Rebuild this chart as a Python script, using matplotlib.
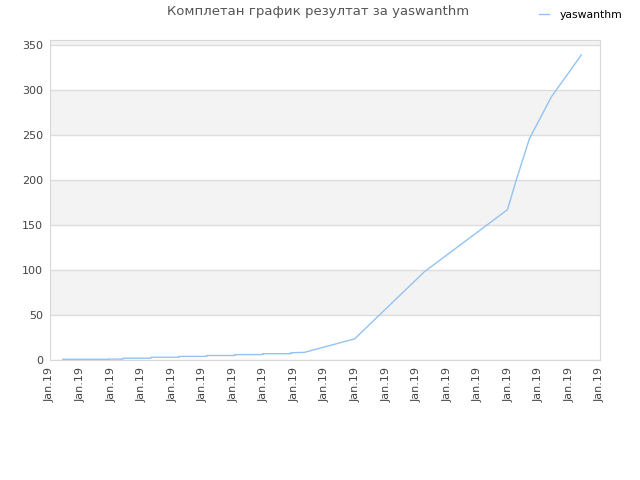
import matplotlib.pyplot as plt

# данные (x в единицах делений оси)
x = [0.42, 1.93, 1.93, 2.39, 2.39, 3.30, 3.30, 4.22, 4.22, 5.13, 5.13,
     6.05, 6.05, 6.96, 6.96, 7.88, 7.88, 8.33, 9.97, 12.25, 14.97, 15.26,
     15.69, 16.41, 17.39]
y = [0.8, 0.8, 1.0, 1.0, 2.0, 2.0, 3.0, 3.0, 4.0, 4.0, 5.0,
     5.0, 6.0, 6.0, 7.0, 7.0, 8.0, 8.5, 23.5, 98, 167, 200,
     246, 292.5, 339]
tick_labels = ["Jan.19"] * 19
y_ticks = [0, 50, 100, 150, 200, 250, 300, 350]

fig = plt.figure(figsize=(6.4, 4.8), dpi=100)
ax = fig.add_axes([50 / 640, 1 - 360 / 480, 550 / 640, 320 / 480])

# полосы фона
for lo in range(50, 400, 100):
    ax.axhspan(lo, lo + 50, color="#f3f3f3", zorder=0, lw=0)
for t in y_ticks:
    ax.axhline(t, color="#dddddd", lw=1, zorder=1)

ax.plot(x, y, color="#92c3f2", lw=1, zorder=3, label="yaswanthm")

ax.set_xlim(0, 18)
ax.set_ylim(0, 355.6)
ax.set_xticks(range(19))
ax.set_xticklabels(tick_labels, rotation=90, fontsize=8, color="#444444")
ax.set_yticks(y_ticks)
ax.set_yticklabels([str(v) for v in y_ticks], fontsize=8, color="#444444")
ax.tick_params(length=0, pad=5)
for s in ax.spines.values():
    s.set_color("#d8d8d8")

fig.text(318 / 640, 1 - 12 / 480, "Комплетан график резултат за yaswanthm",
         ha="center", va="center", fontsize=9.5, color="#555555")
fig.legend(loc="upper right", bbox_to_anchor=(632 / 640, 1.0), frameon=False,
           fontsize=7.8, handlelength=0.9, handletextpad=1.0)

fig.savefig("out.png", dpi=100)
